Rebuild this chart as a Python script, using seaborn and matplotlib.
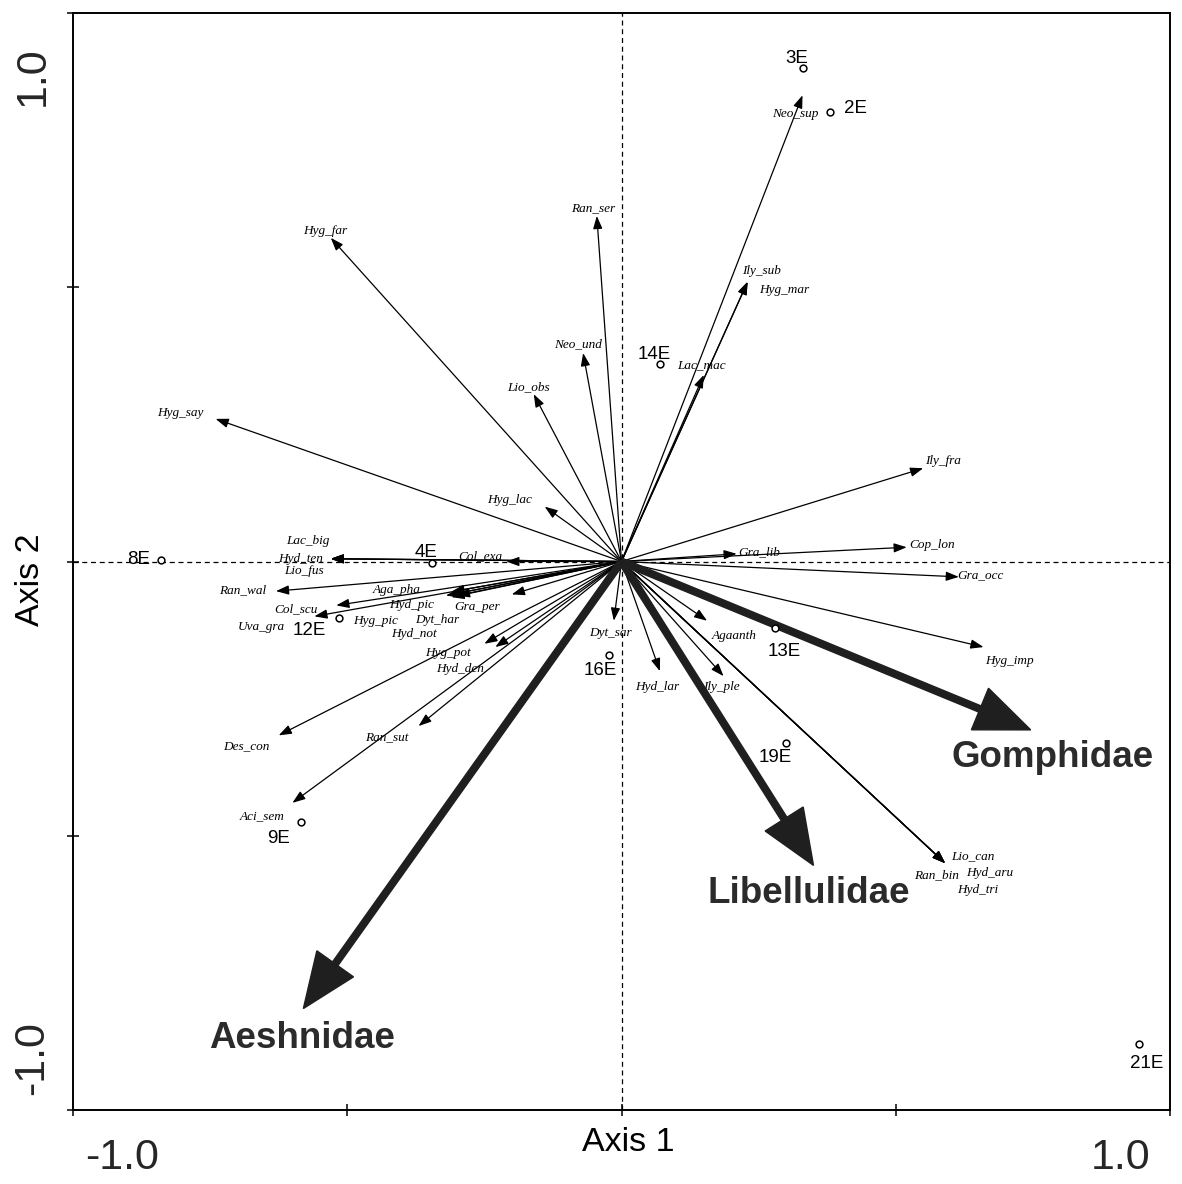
import numpy as np
import pandas as pd
import matplotlib
matplotlib.use("Agg")
import matplotlib.pyplot as plt
import seaborn as sns

# Species scores (biplot arrows)
species = ["Neo_sup", "Ran_ser", "Hyg_far", "Ily_sub", "Hyg_mar", "Lac_mac", "Neo_und",
           "Lio_obs", "Hyg_say", "Hyg_lac", "Col_exa", "Lac_big", "Hyd_ten", "Lio_fus",
           "Ran_wal", "Col_scu", "Uva_gra", "Aga_pha", "Hyd_pic", "Hyg_pic", "Dyt_har",
           "Hyd_not", "Gra_per", "Hyg_pot", "Hyd_den", "Dyt_sar", "Hyd_lar", "Des_con",
           "Ran_sut", "Aci_sem", "Ily_fra", "Cop_lon", "Gra_lib", "Gra_occ", "Hyg_imp",
           "Agaanth", "Ily_ple", "Lio_can", "Ran_bin", "Hyd_aru", "Hyd_tri"]
species_ax1 = [0.33, -0.045, -0.53, 0.23, 0.23, 0.15, -0.07,
               -0.16, -0.74, -0.14, -0.21, -0.53, -0.53, -0.53,
               -0.63, -0.52, -0.56, -0.31, -0.31, -0.32, -0.30,
               -0.31, -0.20, -0.25, -0.23, -0.014, 0.07, -0.625,
               -0.37, -0.60, 0.55, 0.52, 0.21, 0.615, 0.66,
               0.156, 0.186, 0.59, 0.59, 0.59, 0.59]
species_ax2 = [0.85, 0.63, 0.59, 0.51, 0.51, 0.34, 0.38,
               0.305, 0.26, 0.10, 0.0, 0.005, 0.005, 0.005,
               -0.054, -0.08, -0.10, -0.055, -0.06, -0.062, -0.062,
               -0.065, -0.06, -0.15, -0.156, -0.108, -0.20, -0.317,
               -0.30, -0.44, 0.17, 0.026, 0.014, -0.028, -0.156,
               -0.108, -0.209, -0.55, -0.55, -0.55, -0.55]

# Site scores
sites = ["3E", "2E", "14E", "4E", "8E", "12E", "9E", "16E", "13E", "19E", "21E"]
site_ax1 = [0.33, 0.38, 0.07, -0.345, -0.84, -0.515, -0.585, -0.022, 0.28, 0.30, 0.944]
site_ax2 = [0.90, 0.82, 0.36, -0.003, 0.0035, -0.103, -0.475, -0.171, -0.122, -0.33, -0.88]

# Odonata family vectors
families = ["Aeshnidae", "Libellulidae", "Gomphidae"]
family_ax1 = [-0.58, 0.35, 0.746]
family_ax2 = [-0.815, -0.554, -0.307]

# Label placement (pixel offsets from the mark: right, down)
species_label_offset = {
    "Neo_sup": (-7, 19), "Ran_ser": (-4, -8), "Hyg_far": (-6, -7), "Ily_sub": (14, -11),
    "Hyg_mar": (37, 8), "Lac_mac": (-2, -10), "Neo_und": (-5, -9), "Lio_obs": (-5, -7),
    "Hyg_say": (-35, -6), "Hyg_lac": (-35, -7), "Col_exa": (-26, -5), "Lac_big": (-23, -18),
    "Hyd_ten": (-30, 0), "Lio_fus": (-27, 12), "Ran_wal": (-33, -1), "Col_scu": (-40, 4),
    "Uva_gra": (-53, 11), "Aga_pha": (-55, -2), "Hyd_pic": (-40, 11), "Hyg_pic": (-70, 25),
    "Dyt_har": (-20, 24), "Hyd_not": (-38, 37), "Gra_per": (-35, 13), "Hyg_pot": (-36, 9),
    "Hyd_den": (-35, 22), "Dyt_sar": (-3, 12), "Hyd_lar": (-3, 16), "Des_con": (-32, 11),
    "Ran_sut": (-32, 11), "Aci_sem": (-30, 13), "Ily_fra": (20, -7), "Cop_lon": (25, -2),
    "Gra_lib": (23, -2), "Gra_occ": (22, -2), "Hyg_imp": (26, 14), "Agaanth": (27, 15),
    "Ily_ple": (-2, 11), "Lio_can": (28, -7), "Ran_bin": (-9, 12), "Hyd_aru": (45, 10),
    "Hyd_tri": (33, 27),
}
site_label_offset = {
    "3E": (-6, -9), "2E": (26, -3), "14E": (-6, -10), "4E": (-6, -11), "8E": (-22, 0),
    "12E": (-30, 13), "9E": (-22, 16), "16E": (-9, 15), "13E": (9, 23), "19E": (-11, 15),
    "21E": (7, 19),
}
family_label_offset = {"Aeshnidae": (-1, 30), "Libellulidae": (-5, 28), "Gomphidae": (22, 28)}

sp_df = pd.DataFrame({"name": species, "ax1": species_ax1, "ax2": species_ax2})
site_df = pd.DataFrame({"site": sites, "ax1": site_ax1, "ax2": site_ax2})
fam_df = pd.DataFrame({"family": families, "ax1": family_ax1, "ax2": family_ax2})

sns.set_theme(style="white")
plt.rcParams["font.family"] = ["Liberation Sans", "DejaVu Sans"]

fig = plt.figure(figsize=(11.82, 11.84), dpi=100)
ax = fig.add_axes([73 / 1182, 1 - 1110 / 1184, 1097 / 1182, 1097 / 1184])
ax.set_xlim(-1, 1)
ax.set_ylim(-1, 1)

# Zero reference lines
ax.axhline(0, color="black", lw=0.9, ls=(0, (4, 3)), zorder=1)
ax.axvline(0, color="black", lw=0.9, ls=(0, (4, 3)), zorder=1)

# Species arrows and labels
for _, r in sp_df.iterrows():
    ax.annotate("", xy=(r.ax1, r.ax2), xytext=(0, 0),
                arrowprops=dict(arrowstyle="-|>,head_length=0.55,head_width=0.2",
                                lw=0.9, color="black", mutation_scale=14,
                                shrinkA=0, shrinkB=0), zorder=3)
    dx, dy = species_label_offset[r["name"]]
    ax.annotate(r["name"], xy=(r.ax1, r.ax2), xytext=(dx, -dy),
                textcoords="offset pixels", ha="center", va="center",
                fontsize=9.5, fontstyle="italic", family=["Liberation Serif"],
                color="black", zorder=4)

# Family vectors
fam_color = "#1f1f1f"
for _, r in fam_df.iterrows():
    ax.arrow(0, 0, r.ax1, r.ax2, width=0.012, head_width=0.082, head_length=0.10,
             length_includes_head=True, fc=fam_color, ec=fam_color, zorder=4)
    dx, dy = family_label_offset[r.family]
    ax.annotate(r.family, xy=(r.ax1, r.ax2), xytext=(dx, -dy),
                textcoords="offset pixels", ha="center", va="center",
                fontsize=26.5, fontweight="bold", color="#2b2b2b", zorder=5)

# Sites
sns.scatterplot(data=site_df, x="ax1", y="ax2", marker="o", s=24, color="white",
                edgecolor="black", linewidth=1.1, ax=ax, zorder=6, legend=False)
for _, r in site_df.iterrows():
    dx, dy = site_label_offset[r.site]
    ax.annotate(r.site, xy=(r.ax1, r.ax2), xytext=(dx, -dy), textcoords="offset pixels",
                ha="center", va="center", fontsize=13.5, color="black", zorder=6)

# Frame, ticks and axis text
for s in ax.spines.values():
    s.set_color("black")
    s.set_linewidth(1.4)
ax.set_xticks([-1, -0.5, 0, 0.5, 1])
ax.set_yticks([-1, -0.5, 0, 0.5, 1])
ax.set_xticklabels([])
ax.set_yticklabels([])
ax.tick_params(direction="inout", length=9, width=1.1, color="black",
               bottom=True, left=True, top=False, right=False)

xt = ax.get_xaxis_transform()
yt = ax.get_yaxis_transform()
ax.text(-0.91, -0.044, "-1.0", transform=xt, ha="center", va="center", fontsize=31)
ax.text(0.91, -0.044, "1.0", transform=xt, ha="center", va="center", fontsize=31)
ax.text(-0.037, 0.885, "1.0", transform=yt, ha="center", va="center", fontsize=31, rotation=90)
ax.text(-0.037, -0.905, "-1.0", transform=yt, ha="center", va="center", fontsize=31, rotation=90)

ax.set_xlabel("Axis 1", fontsize=24.5, color="black")
ax.set_ylabel("Axis 2", fontsize=24.5, color="black")
ax.xaxis.set_label_coords(0.506, -0.030)
ax.yaxis.set_label_coords(-0.039, 0.483)
ax.xaxis.label.set_va("center")
ax.yaxis.label.set_va("center")
ax.yaxis.label.set_ha("center")

fig.savefig("out.png", dpi=100, facecolor="white")
